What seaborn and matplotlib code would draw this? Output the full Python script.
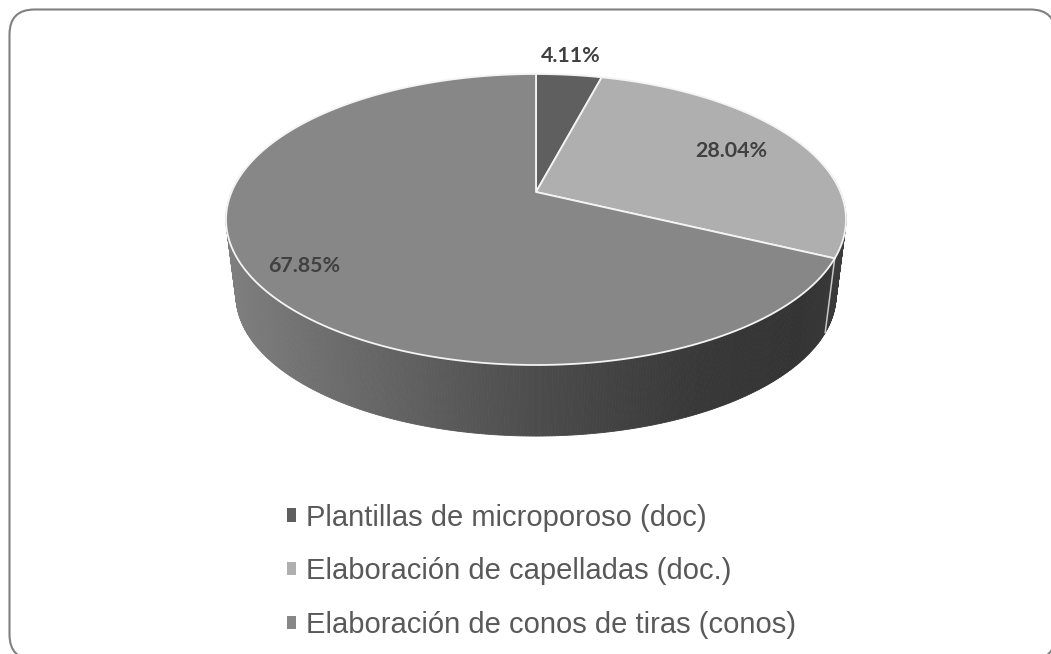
import numpy as np
import seaborn as sns
import matplotlib
matplotlib.use('Agg')
import matplotlib.pyplot as plt
from matplotlib.colors import to_rgb
from matplotlib.patches import FancyBboxPatch, Patch

categories = ['Plantillas de microporoso (doc)',
              'Elaboración de capelladas (doc.)',
              'Elaboración de conos de tiras (conos)']
values = [4.11, 28.04, 67.85]
value_labels = ['4.11%', '28.04%', '67.85%']
slice_colors = ['#5f5f5f', '#afafaf', '#878787']
label_pos = [(571, 56), (731, 151), (304, 266)]

# wall shading, read left to right across the picture
wall_x = [226, 300, 450, 536, 700, 800, 846]
wall_grey = ['#808080', '#727272', '#5a5a5a', '#4c4c4c', '#383838', '#333333', '#3c3c3c']

# perspective of the disc, in pixels
cx, cy = 536, 192
a, b, k = 304.4, 140.3, 0.189
drop, shrink = 76.6, 0.968


def project(theta, s=1.0, dy=0.0):
    # theta in pie degrees (counterclockwise from east)
    u = np.cos(np.radians(theta))
    v = np.sin(np.radians(theta))
    w = 1 + k * v
    return cx + s * a * u / w, cy - s * b * v / w + dy


sns.set_theme(style='white')
plt.rcParams['font.family'] = ['Liberation Sans', 'DejaVu Sans']

fig = plt.figure(figsize=(10.51, 6.54), dpi=100)
ax = fig.add_axes([0, 0, 1, 1])
wedges, _ = ax.pie(values, colors=slice_colors, startangle=90, counterclock=False)
angles = [(w.theta1, w.theta2) for w in wedges]
for w in wedges:
    w.remove()
ax.set_aspect('auto')
ax.set_xlim(0, 1051)
ax.set_ylim(654, 0)
ax.axis('off')

ax.add_patch(FancyBboxPatch((9.5, 9.5), 1046, 650, boxstyle='round,pad=0,rounding_size=25',
                            fc='white', ec='#808080', lw=1.5, zorder=0))

# side wall as thin strips
t = np.arange(170, 370.5, 0.5)
stops = np.array([to_rgb(c)[0] for c in wall_grey])
for t0, t1 in zip(t[:-1], t[1:]):
    x0, y0 = project(t0)
    x1, y1 = project(t1)
    x2, y2 = project(t1, shrink, drop)
    x3, y3 = project(t0, shrink, drop)
    g = np.interp((x0 + x3) / 2, wall_x, stops)
    ax.fill([x0, x1, x2, x3], [y0, y1, y2, y3], color=(g, g, g), lw=0.6, zorder=1)

# divider on the wall, at the edge between the last two slices
th = angles[1][0] if abs(angles[1][0] - 90) > abs(angles[1][1] - 90) else angles[1][1]
x0, y0 = project(th)
x1, y1 = project(th, shrink, drop)
ax.plot([x0, x1], [y0, y1], color='#c8c8c8', lw=1.1, zorder=2)

# top of the disc
for (t1, t2), col in zip(angles, slice_colors):
    tt = np.linspace(t1, t2, 200)
    xs, ys = project(tt)
    ax.fill(np.r_[cx, xs], np.r_[cy, ys], fc=col, ec='#f4f4f4', lw=1.3, zorder=3,
            joinstyle='round')

for txt, (x, y) in zip(value_labels, label_pos):
    ax.text(x, y, txt, ha='center', va='center', fontsize=15.4, fontweight='bold',
            family=['Lato', 'DejaVu Sans'], color='#404040', zorder=4)

handles = [Patch(fc=c, ec='none') for c in slice_colors]
ax.legend(handles, categories, loc='upper left', bbox_to_anchor=(287, 503.5),
          bbox_transform=ax.transData, frameon=False, fontsize=21, labelcolor='#595959',
          borderpad=0, borderaxespad=0, labelspacing=0.875, handlelength=0.31,
          handleheight=0.31, handletextpad=0.34)

fig.savefig('out.png', dpi=100)
